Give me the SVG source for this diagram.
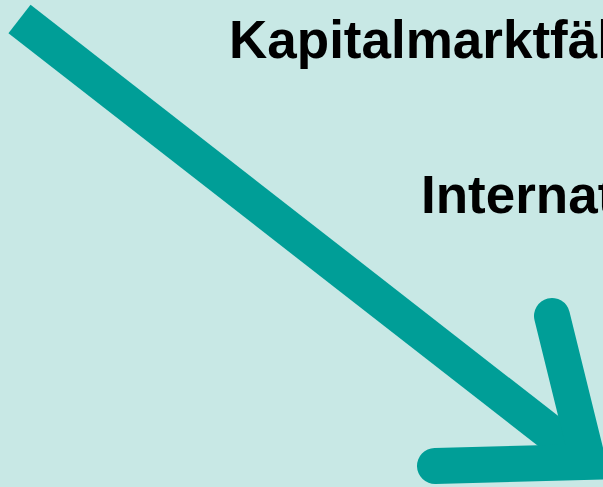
<svg xmlns="http://www.w3.org/2000/svg" width="603" height="487" viewBox="0 0 603 487">
<style>
.t{font-family:"Liberation Sans",Arial,sans-serif;font-weight:bold;fill:#000;font-size:53px}
.a{fill:none;stroke:#009e97;stroke-width:36}
</style>
<rect width="603" height="487" fill="#c8e8e5"/>
<g id="label1"><text class="t" x="229" y="58">Kapitalmarktfäh</text></g>
<g id="label2"><text class="t" x="421" y="213">Internat</text></g>
<g id="connectors">
<path class="a" d="M19.5,19 L588,462" stroke-linecap="butt"/>
<path class="a" d="M552,316 L588,462 L435,466" stroke-linecap="round" stroke-linejoin="miter"/>
</g>
</svg>
